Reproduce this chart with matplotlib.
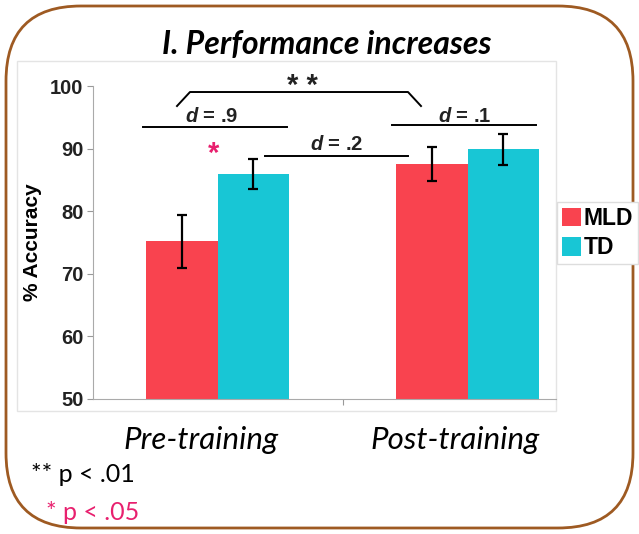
import matplotlib
matplotlib.use("Agg")
import matplotlib.pyplot as plt
from matplotlib.patches import FancyBboxPatch, Rectangle
import numpy as np

# ---- data ----
phases = ["Pre-training", "Post-training"]
groups = ["MLD", "TD"]
mld_means = [75.2, 87.6]
mld_err = [4.2, 2.7]
td_means = [86.0, 89.9]
td_err = [2.4, 2.5]
yticks = [50, 60, 70, 80, 90, 100]

RED = "#F9434F"
CYAN = "#18C6D5"
PINK = "#E8206E"
BROWN = "#9E5A22"

plt.rcParams["mathtext.fontset"] = "custom"
plt.rcParams["mathtext.it"] = "Liberation Sans:italic:bold"
plt.rcParams["mathtext.rm"] = "Liberation Sans:bold"

fig = plt.figure(figsize=(6.39, 5.34), dpi=100)
W, H = 639, 534

# overlay for frame / plot-area box
bg = fig.add_axes([0, 0, 1, 1], zorder=0)
bg.set_xlim(0, W)
bg.set_ylim(H, 0)
bg.axis("off")
bg.add_patch(FancyBboxPatch((6, 6), W - 12, H - 12,
                            boxstyle="round,pad=0,rounding_size=75",
                            fill=False, edgecolor=BROWN, linewidth=2.0))
bg.add_patch(Rectangle((17, 61), 556 - 17, 411 - 61, fill=False,
                       edgecolor="#e4e4e4", linewidth=1.0))

ax = fig.add_axes([93 / W, 1 - 399 / H, (556 - 93) / W, (399 - 86) / H], zorder=1)
ax.patch.set_alpha(0)

x = np.arange(len(phases))
bw = 0.286
ax.bar(x - bw / 2, mld_means, bw, color=RED, label=groups[0], zorder=2)
ax.bar(x + bw / 2, td_means, bw, color=CYAN, label=groups[1], zorder=2)
ax.errorbar(x - bw / 2, mld_means, yerr=mld_err, fmt="none", ecolor="black",
            elinewidth=1.6, capsize=3.5, capthick=1.6, zorder=3)
ax.errorbar(x + bw / 2, td_means, yerr=td_err, fmt="none", ecolor="black",
            elinewidth=1.6, capsize=3.5, capthick=1.6, zorder=3)

ax.set_xlim(-0.498, 1.354)
ax.set_ylim(50, 100)
ax.set_yticks(yticks)
ax.set_yticklabels([str(t) for t in yticks], fontsize=14.5, fontweight="bold",
                   family="Liberation Sans", color="#222222")
ax.set_xticks([0.5])
ax.set_xticklabels([""])
ax.tick_params(axis="x", which="major", length=4, color="#999999", direction="out")
ax.tick_params(axis="y", length=4, color="#999999", pad=3)
for s in ["top", "right"]:
    ax.spines[s].set_visible(False)
ax.spines["left"].set_color("#aaaaaa")
ax.spines["bottom"].set_color("#aaaaaa")
ax.set_ylabel("% Accuracy", fontsize=15, fontweight="bold",
              family="Liberation Sans", labelpad=6)

# category labels (shifted left of bar-group centres as in the original)
for px, lab in zip([201, 455], phases):
    fig.text(px / W, 1 - 440 / H, lab, ha="center", va="center", fontsize=22.5,
             style="italic", family="Lato", color="black")

# annotations
lk = dict(color="black", linewidth=1.4, clip_on=False, zorder=4)
ax.plot([-0.162, -0.11, 0.762, 0.814], [96.8, 99.04, 99.04, 96.8], **lk)
ax.text(0.338, 100.0, "* *", ha="center", va="center", fontsize=21,
        fontweight="bold", family="Liberation Sans", color="#222222")
ax.plot([-0.298, 0.278], [93.45, 93.45], **lk)
ax.plot([0.698, 1.274], [93.77, 93.77], **lk)
ax.plot([0.19, 0.762], [88.82, 88.82], **lk)
tk = dict(ha="center", va="center", fontsize=14.5, fontweight="bold",
          family="Liberation Sans", color="#222222")
ax.text(-0.022, 95.2, r"$d$ = .9", **tk)
ax.text(0.99, 95.2, r"$d$ = .1", **tk)
ax.text(0.478, 90.6, r"$d$ = .2", **tk)
ax.text(-0.014, 89.2, "*", ha="center", va="center", fontsize=21,
        fontweight="bold", family="Liberation Sans", color=PINK)

leg = ax.legend(loc="upper left", bbox_to_anchor=(557 / W, 1 - 202 / H),
                bbox_transform=fig.transFigure, borderaxespad=0,
                fancybox=False, edgecolor="#dddddd", framealpha=1,
                prop=dict(family="Liberation Sans", weight="bold", size=16.5),
                handlelength=0.85, handleheight=0.85, handletextpad=0.12,
                labelspacing=0.3, borderpad=0.2)

fig.text(327 / W, 1 - 45 / H, "I. Performance increases", ha="center",
         va="center", fontsize=23, fontweight="bold", style="italic", family="Lato")
fig.text(31 / W, 1 - 475 / H, "** p < .01", ha="left", va="center",
         fontsize=18, family="Lato", color="black")
fig.text(46 / W, 1 - 512 / H, "* p < .05", ha="left", va="center",
         fontsize=18, family="Lato", color=PINK)

fig.savefig("out.png", dpi=100)
